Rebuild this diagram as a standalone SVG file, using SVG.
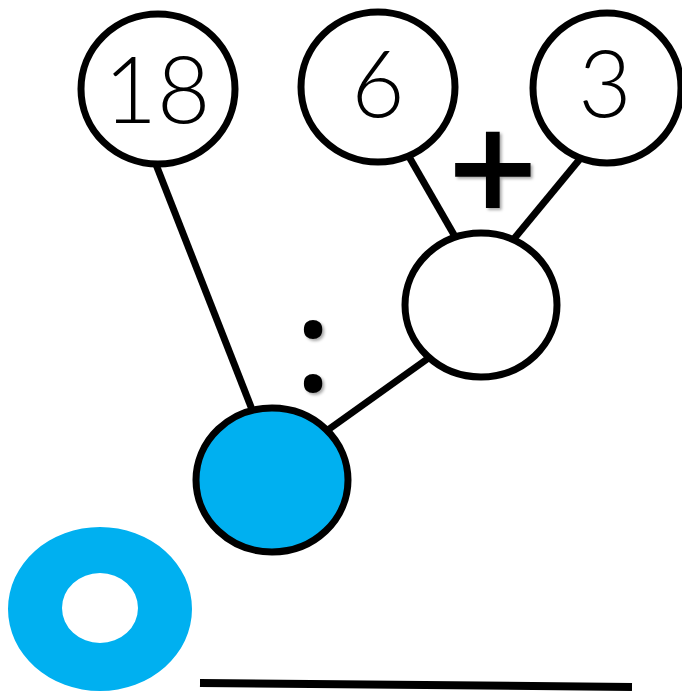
<svg xmlns="http://www.w3.org/2000/svg" width="682" height="691" viewBox="0 0 682 691">
<defs>
<style>
.node{fill:#fff;stroke:#000;stroke-width:7}
.blue{fill:#00B0F0;stroke:#000;stroke-width:7}
.edge{stroke:#000;stroke-width:7;fill:none}
.num{font-family:"Lato","DejaVu Sans",sans-serif;font-weight:300;font-size:92px;fill:#000;text-anchor:middle}
.op{font-family:"Open Sans","DejaVu Sans",sans-serif;fill:#000;text-anchor:middle}
</style>
<filter id="sh" x="-30%" y="-30%" width="160%" height="160%">
<feDropShadow dx="2" dy="2" stdDeviation="1.5" flood-color="#000" flood-opacity="0.35"/>
</filter>
</defs>
<rect width="682" height="691" fill="#fff"/>
<g id="connectors">
<line class="edge" x1="155" y1="162" x2="253" y2="412"/>
<line class="edge" x1="404" y1="148" x2="457" y2="240"/>
<line class="edge" x1="584" y1="154" x2="513" y2="240"/>
<line class="edge" x1="430" y1="357" x2="325" y2="432"/>
</g>
<g id="node-18">
<ellipse class="node" cx="158" cy="89" rx="77" ry="75"/>
<text class="num" x="157" y="123">18</text>
</g>
<g id="node-6">
<ellipse class="node" cx="378" cy="87" rx="77" ry="75"/>
<text class="num" x="378" y="117">6</text>
</g>
<g id="node-3">
<ellipse class="node" cx="607" cy="88" rx="74" ry="75"/>
<text class="num" x="605" y="117">3</text>
</g>
<g id="node-sum">
<ellipse class="node" cx="481" cy="305" rx="76" ry="72"/>
</g>
<g id="node-result">
<ellipse class="blue" cx="272" cy="480" rx="76" ry="72"/>
</g>
<g id="operators">
<text class="op" x="493" y="226" font-size="158" font-weight="600" filter="url(#sh)">+</text>
<text class="op" x="313" y="391" font-size="128" font-weight="600" filter="url(#sh)">:</text>
</g>
<g id="ring">
<path fill="#00B0F0" fill-rule="evenodd" d="M8,609 a92,82 0 1,0 184,0 a92,82 0 1,0 -184,0 Z M62,608 a38,35 0 1,0 76,0 a38,35 0 1,0 -76,0 Z"/>
</g>
<g id="answer-line">
<line x1="200" y1="683" x2="632" y2="687" stroke="#000" stroke-width="8"/>
</g>
</svg>
